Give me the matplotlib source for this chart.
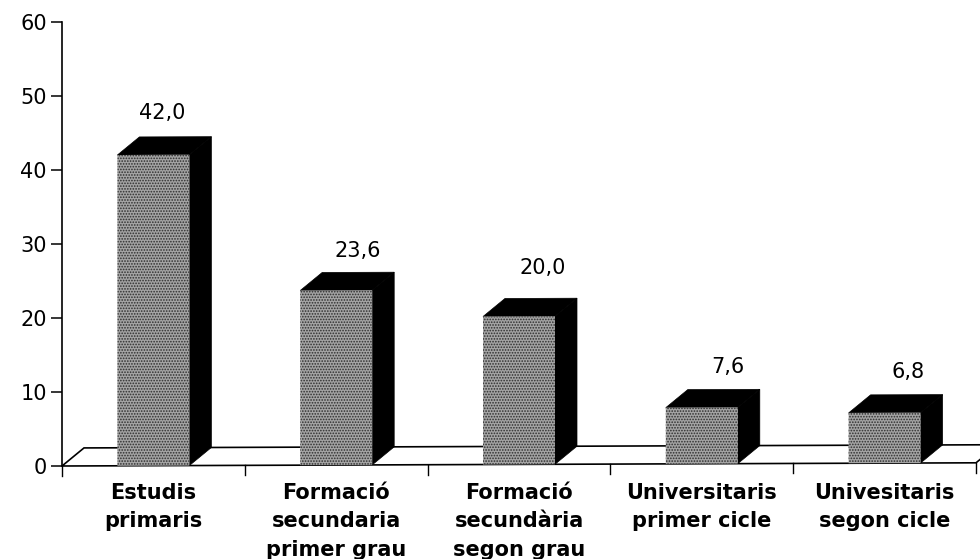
import matplotlib
matplotlib.use("Agg")
import matplotlib.pyplot as plt
from matplotlib.patches import Polygon
from matplotlib.transforms import Affine2D

categories = ["Estudis\nprimaris", "Formació\nsecundaria\nprimer grau", "Formació\nsecundària\nsegon grau",
              "Universitaris\nprimer cicle", "Univesitaris\nsegon cicle"]
values = [42.0, 23.6, 20.0, 7.6, 6.8]
value_labels = ["42,0", "23,6", "20,0", "7,6", "6,8"]
y_ticks = [0, 10, 20, 30, 40, 50, 60]

plt.rcParams["font.family"] = ["DejaVu Sans"]
plt.rcParams["hatch.linewidth"] = 0.8
W, H = 980, 559
fig = plt.figure(figsize=(W / 100, H / 100), dpi=100)
L, R, B, T = 62, 980, 466, 22
ax = fig.add_axes([L / W, 1 - B / H, (R - L) / W, (B - T) / H])
cat_px = 182.8
ax.set_xlim(0, (R - L) / cat_px)
ax.set_ylim(0, 60)

px_x = 1 / cat_px
px_y = 60 / (B - T)
dx, dy = 22 * px_x, 18 * px_y
bar_w = 72 * px_x
slope = 3.2 / 918
tilt = Affine2D().skew(0, slope).translate(0, -L * slope)
tr = ax.transData + tilt

for s in ["top", "right", "bottom"]:
    ax.spines[s].set_visible(False)
ax.spines["left"].set_linewidth(1.2)
ax.set_yticks(y_ticks)
ax.tick_params(axis="y", labelsize=15, length=8, width=1.1, pad=3)
ax.set_xticks([])

# floor
xmax = len(values)
floor = Polygon([(0, 0), (dx, dy), (xmax + dx, dy), (xmax, 0)], closed=True,
                facecolor="white", edgecolor="black", lw=1.2, transform=tr, clip_on=False, zorder=1)
ax.add_patch(floor)
# category separators
for i in range(len(values) + 1):
    ax.plot([i, i], [0, -10 * px_y], color="black", lw=1, transform=tr, clip_on=False, zorder=1)

label_dx = [9, 22, 24, 26, 23]
label_dy = [42, 39, 48, 40, 41]
for i, v in enumerate(values):
    c = i + 0.5
    x0, x1 = c - bar_w / 2, c + bar_w / 2
    ax.add_patch(Polygon([(x1, 0), (x1 + dx, dy), (x1 + dx, v + dy), (x1, v)], facecolor="black",
                         edgecolor="black", lw=0.5, transform=tr, zorder=3))
    ax.add_patch(Polygon([(x0, v), (x0 + dx, v + dy), (x1 + dx, v + dy), (x1, v)], facecolor="black",
                         edgecolor="black", lw=0.5, transform=tr, zorder=3))
    ax.bar(c, v, width=bar_w, color="#a4a4a4", edgecolor="#2e2e2e", hatch="......", lw=0,
           transform=tr, zorder=4)
    ax.text(c + label_dx[i] * px_x, v + label_dy[i] * px_y, value_labels[i], ha="center", va="center",
            fontsize=15, transform=tr, zorder=5)
    ax.text(c, -17 * px_y, categories[i], ha="center", va="top", fontsize=15,
            fontweight="bold", linespacing=1.52, transform=ax.transData, clip_on=False)

fig.savefig("out.png", dpi=100)
